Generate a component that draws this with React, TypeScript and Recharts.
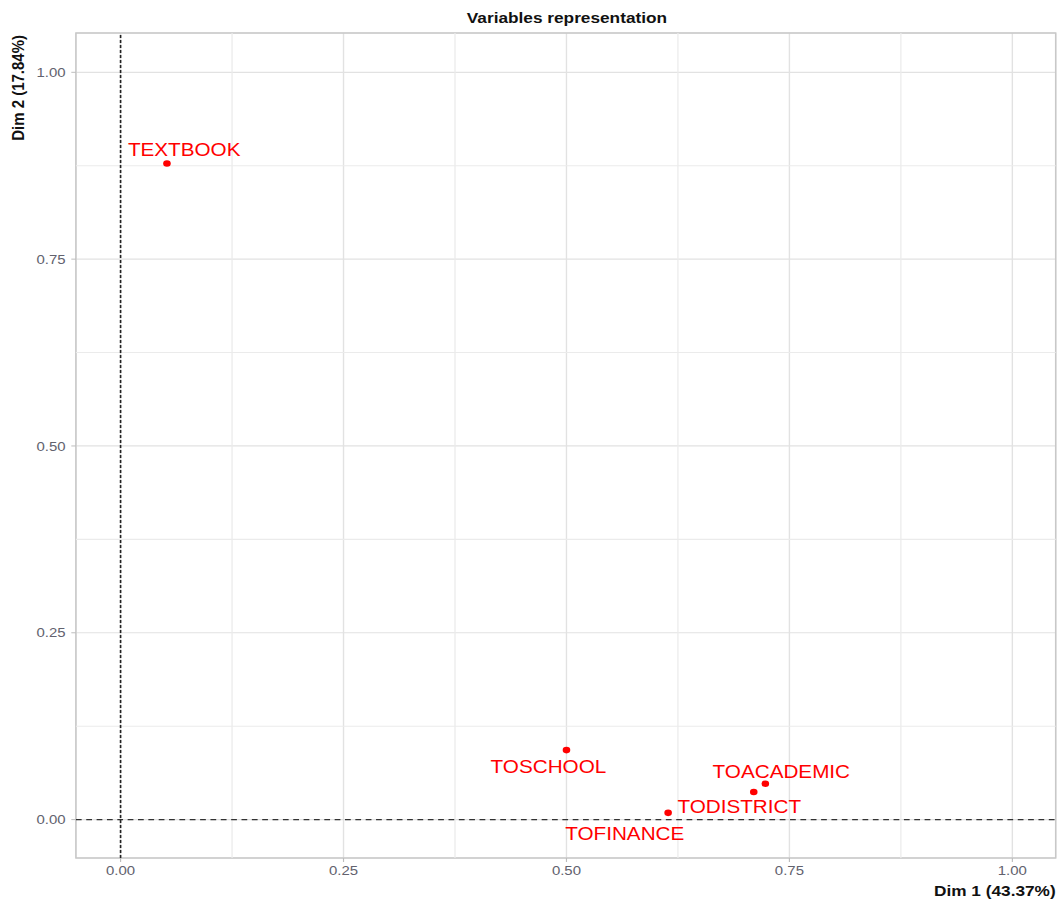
import React from "react";
import {
  ScatterChart,
  Scatter,
  XAxis,
  YAxis,
  CartesianGrid,
  ReferenceLine,
  ReferenceArea,
} from "recharts";

// ---- data ----
const variableNames = ["TEXTBOOK", "TOSCHOOL", "TOFINANCE", "TODISTRICT", "TOACADEMIC"];
const dim1Values = [0.052, 0.5, 0.614, 0.71, 0.723];
const dim2Values = [0.878, 0.093, 0.009, 0.037, 0.048];
const majorTicks = [0, 0.25, 0.5, 0.75, 1.0];
const minorTicks = [0.125, 0.375, 0.625, 0.875];
const xDomain: [number, number] = [-0.0501, 1.0486];
const yDomain: [number, number] = [-0.0514, 1.0526];

// label placement (repel-like offsets from the point, in px)
const labelOffsets: Record<string, [number, number]> = {
  TEXTBOOK: [15, -14.4],
  TOSCHOOL: [-15.7, 16],
  TOFINANCE: [-37.7, 20.3],
  TODISTRICT: [-12.6, 14.3],
  TOACADEMIC: [13.9, -12.3],
};

const data = variableNames.map((name, i) => ({
  name,
  x: dim1Values[i],
  y: dim2Values[i],
}));

const STRETCH = 1.15;
const W = 920;
const H = 902;
const FONT = "'Liberation Sans', Arial, sans-serif";

const PointWithLabel = (props: any) => {
  const { cx, cy, payload } = props;
  const off = labelOffsets[payload.name] || [0, 0];
  return (
    <g>
      <circle cx={cx} cy={cy} r={3.3} fill="#FF0000" />
      <text
        x={cx + off[0]}
        y={cy + off[1] + 6.5}
        textAnchor="middle"
        fill="#FF0000"
        fontSize={18}
        fontFamily={FONT}
      >
        {payload.name}
      </text>
    </g>
  );
};

const fmt = (v: number) => v.toFixed(2);

export default function App() {
  return (
    <div
      style={{
        position: "absolute",
        left: 0,
        top: 0,
        width: W,
        height: H,
        transform: `scaleX(${STRETCH})`,
        transformOrigin: "0 0",
        background: "#fff",
        fontFamily: FONT,
      }}
    >
      <ScatterChart
        width={W}
        height={H}
        margin={{ top: 33, right: 2, bottom: 19, left: 10 }}
      >
        <CartesianGrid stroke="#E2E2E2" strokeWidth={1.2} />
        {minorTicks.map((t) => (
          <ReferenceLine key={"vx" + t} x={t} stroke="#EBEBEB" strokeWidth={1.1} />
        ))}
        {minorTicks.map((t) => (
          <ReferenceLine key={"hy" + t} y={t} stroke="#EBEBEB" strokeWidth={1.1} />
        ))}
        <XAxis
          type="number"
          dataKey="x"
          domain={xDomain}
          ticks={majorTicks}
          tickFormatter={fmt}
          allowDataOverflow
          axisLine={false}
          tickLine={{ stroke: "#BDBDBD" }}
          tickSize={4}
          tickMargin={4}
          height={25}
          tick={{ fill: "#62626E", fontSize: 13, fontFamily: FONT }}
        />
        <YAxis
          type="number"
          dataKey="y"
          domain={yDomain}
          ticks={majorTicks}
          tickFormatter={fmt}
          allowDataOverflow
          axisLine={false}
          tickLine={{ stroke: "#BDBDBD" }}
          tickSize={4}
          tickMargin={5}
          width={56}
          tick={{ fill: "#62626E", fontSize: 13, fontFamily: FONT }}
        />
        <ReferenceArea
          x1={xDomain[0]}
          x2={xDomain[1]}
          y1={yDomain[0]}
          y2={yDomain[1]}
          fill="none"
          fillOpacity={0}
          stroke="#C8C8C8"
          strokeWidth={1.3}
          ifOverflow="extendDomain"
        />
        <ReferenceLine x={0} stroke="#222" strokeWidth={1.4} strokeDasharray="3 2" />
        <ReferenceLine y={0} stroke="#333" strokeWidth={1.3} strokeDasharray="5 4" />
        <Scatter data={data} isAnimationActive={false} shape={PointWithLabel} />
      </ScatterChart>
      <svg
        width={W}
        height={H}
        style={{ position: "absolute", left: 0, top: 0, pointerEvents: "none" }}
      >
        <text
          x={493}
          y={23}
          textAnchor="middle"
          fontWeight="bold"
          fontSize={15}
          fontFamily={FONT}
          fill="#111"
        >
          Variables representation
        </text>
        <text
          x={21}
          y={35}
          textAnchor="end"
          fontWeight="bold"
          fontSize={15}
          fontFamily={FONT}
          fill="#111"
          transform="rotate(-90, 21, 35)"
        >
          Dim 2 (17.84%)
        </text>
        <text
          x={918}
          y={896}
          textAnchor="end"
          fontWeight="bold"
          fontSize={15}
          fontFamily={FONT}
          fill="#111"
        >
          Dim 1 (43.37%)
        </text>
      </svg>
    </div>
  );
}
